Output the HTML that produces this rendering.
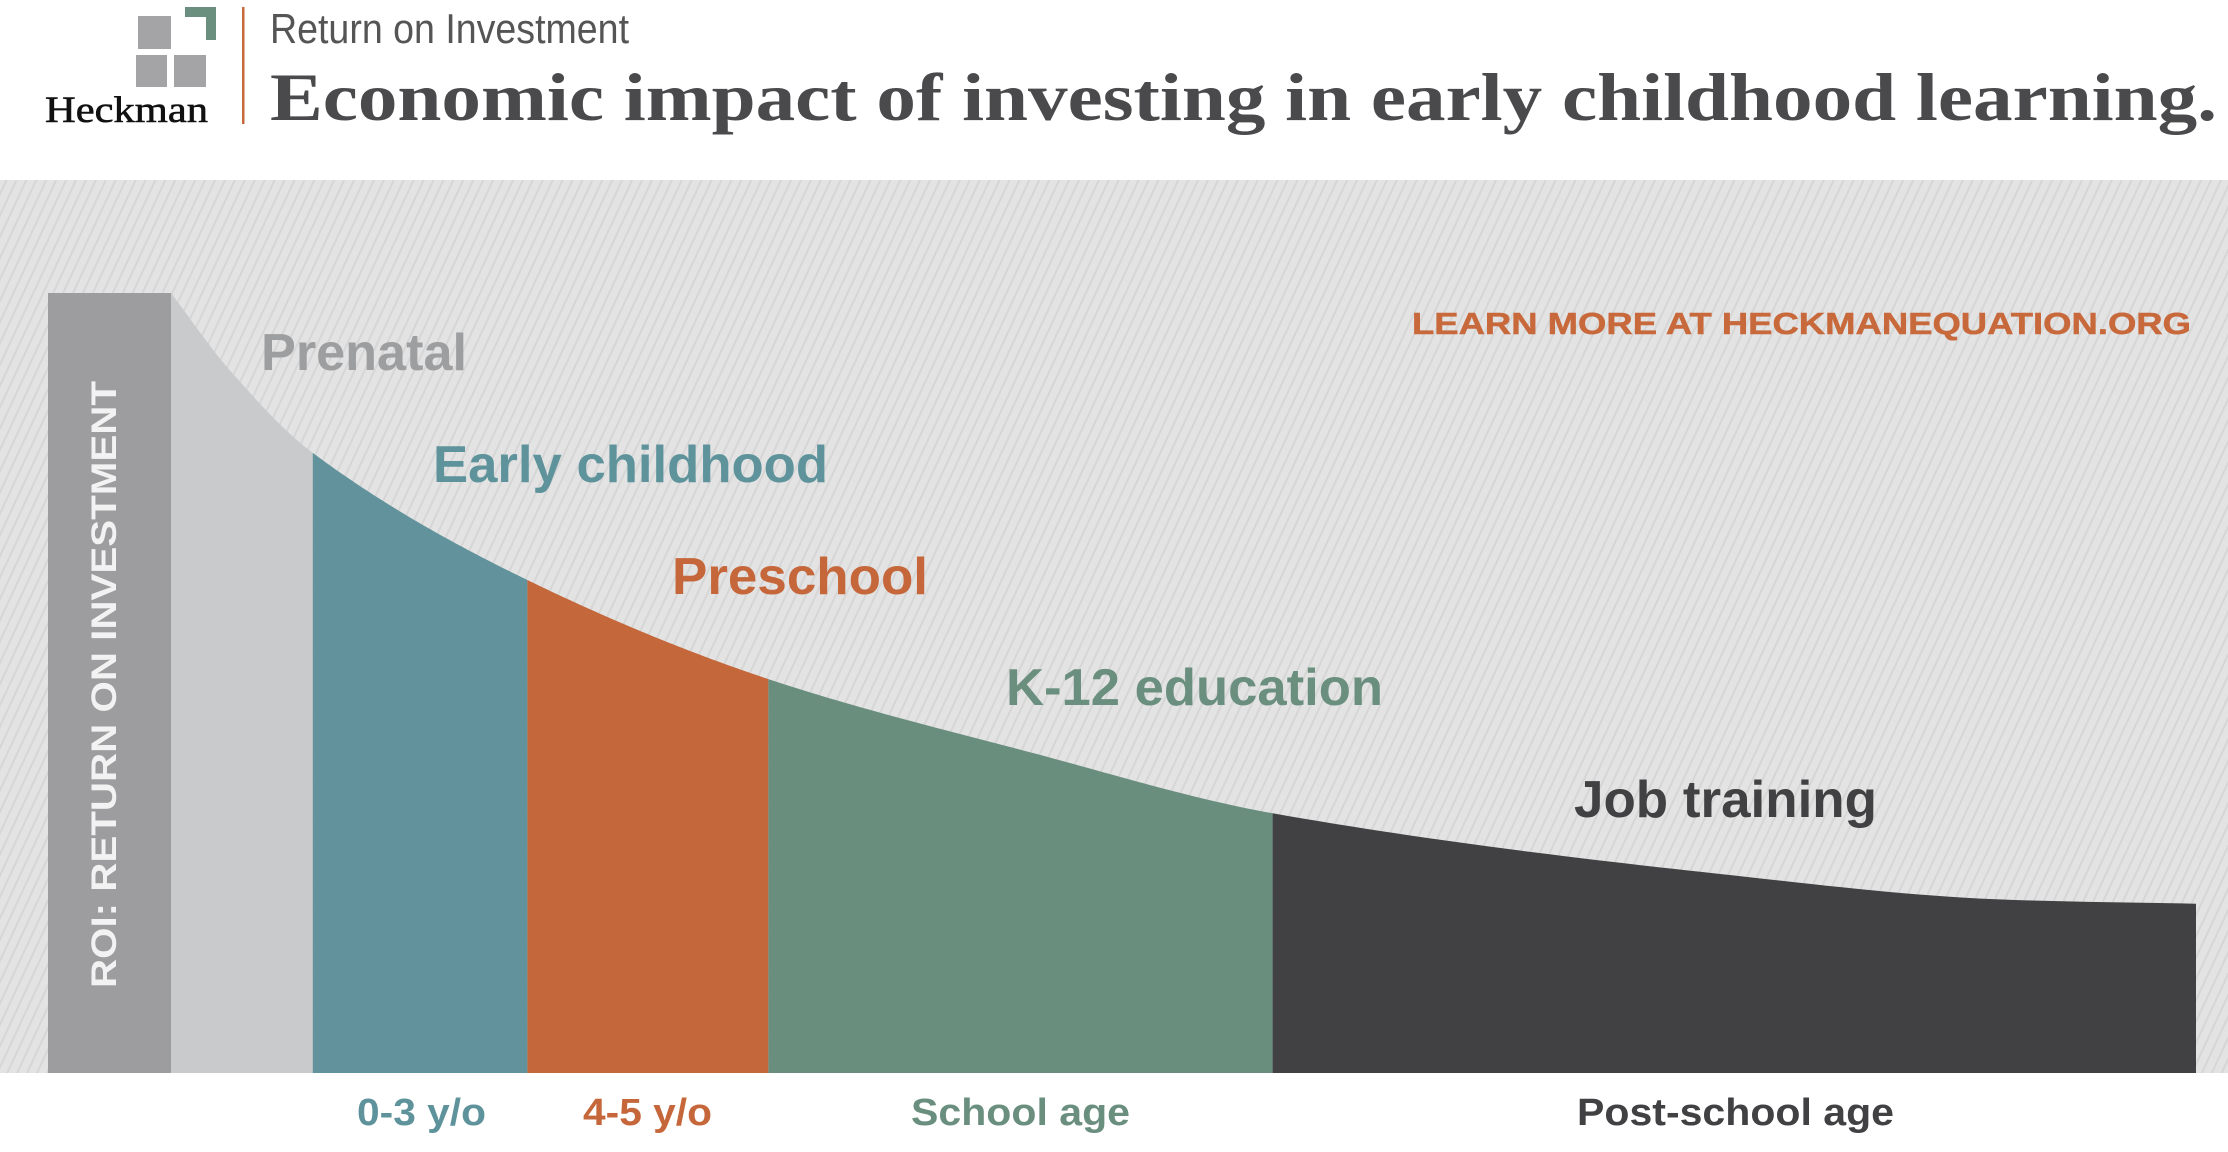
<!DOCTYPE html>
<html><head><meta charset="utf-8"><style>
html,body{margin:0;padding:0;background:#fff;}
svg{display:block;}
</style></head><body>
<svg id="chart" width="2228" height="1152" viewBox="0 0 2228 1152" xmlns="http://www.w3.org/2000/svg" font-family="'Liberation Sans', Arial, sans-serif">
<defs>
<pattern id="stripes" patternUnits="userSpaceOnUse" width="9" height="9" patternTransform="rotate(25)">
<rect width="9" height="9" fill="#e3e3e3"/>
<rect width="2" height="9" fill="#d6d6d6"/>
</pattern>
</defs>
<g>
<rect x="138" y="16" width="33" height="33" fill="#a4a4a6"/>
<path d="M185 7 H216 V40 H206 V17 H185 Z" fill="#6b8f7f"/>
<rect x="136" y="55" width="31" height="32" fill="#a4a4a6"/>
<rect x="174" y="55" width="32" height="32" fill="#a4a4a6"/>
<text x="45" y="122" font-family="'Liberation Serif', serif" font-size="37" textLength="163" lengthAdjust="spacingAndGlyphs" fill="#111" stroke="#111" stroke-width="0.6">Heckman</text>
<rect x="242" y="7" width="2.5" height="117" fill="#c8693c"/>
<text x="270" y="43" font-family="'Liberation Sans Narrow','Liberation Sans',sans-serif" font-size="42" textLength="359" lengthAdjust="spacingAndGlyphs" fill="#555">Return on Investment</text>
<text x="270" y="120" font-family="'Liberation Serif', serif" font-weight="bold" font-size="68" textLength="1947" lengthAdjust="spacingAndGlyphs" fill="#4a4a4c">Economic impact of investing in early childhood learning.</text>
</g>
<rect x="0" y="180" width="2228" height="893" fill="url(#stripes)"/>
<g id="areas"></g>
<rect x="48" y="293" width="123" height="780" fill="#9d9d9f"/>
<text transform="translate(116,988) rotate(-90)" font-size="35" font-weight="bold" textLength="607" lengthAdjust="spacingAndGlyphs" fill="#f2f2f2">ROI: RETURN ON INVESTMENT</text>
<text x="1412" y="334" font-size="31" font-weight="bold" textLength="779" lengthAdjust="spacingAndGlyphs" fill="#c8693c" stroke="#c8693c" stroke-width="0.5">LEARN MORE AT HECKMANEQUATION.ORG</text>
<g id="labels"></g>
</svg>
<script>
// curve data: stage position (0-100 along age axis) and ROI (0-100)
const curveX = [0, 2.9, 7.0, 17.6, 29.5, 42.6, 54.4, 76.2, 90.8, 100];
const curveY = [100, 90.1, 79.5, 63.2, 50.5, 41.0, 33.3, 25.6, 22.2, 21.7];
const stageNames = ["Prenatal", "Early childhood", "Preschool", "K-12 education", "Job training"];
const stageStart = [0, 7.0, 17.6, 29.5, 54.4];
const stageEnd = [7.0, 17.6, 29.5, 54.4, 100];
const stageColors = ["#c9cacc", "#62929b", "#c4673b", "#6a8e7e", "#414143"];
const labelColors = ["#9d9ea0", "#5f939c", "#c5673a", "#6a8f7f", "#414143"];
const labelX = [261, 433, 672, 1006, 1574];
const labelY = [370, 482, 594, 705, 817];
const labelW = [206, 395, 256, 377, 303];
const ageLabels = ["0-3 y/o", "4-5 y/o", "School age", "Post-school age"];
const ageLabelX = [357, 583, 911, 1577];
const ageLabelW = [129, 129, 219, 317];
const ageLabelColors = ["#5f939c", "#c5673a", "#6a8f7f", "#414143"];

const X0 = 171, X1 = 2196, Y0 = 1073, Y1 = 293;
const sx = v => X0 + (X1 - X0) * v / 100;
const sy = v => Y0 - (Y0 - Y1) * v / 100;
const NS = "http://www.w3.org/2000/svg";

function curveAt(t) {
  const n = curveX.length;
  const d = [], m = [];
  for (let i = 0; i < n - 1; i++) d.push((curveY[i+1]-curveY[i])/(curveX[i+1]-curveX[i]));
  m[0] = d[0]; m[n-1] = d[n-2];
  for (let i = 1; i < n - 1; i++) m[i] = (d[i-1]*d[i] <= 0) ? 0 : 2/(1/d[i-1]+1/d[i]);
  let i = 0;
  while (i < n - 2 && t > curveX[i+1]) i++;
  const h = curveX[i+1]-curveX[i], s = (t-curveX[i])/h;
  const h00 = 2*s*s*s-3*s*s+1, h10 = s*s*s-2*s*s+s, h01 = -2*s*s*s+3*s*s, h11 = s*s*s-s*s;
  return h00*curveY[i]+h10*h*m[i]+h01*curveY[i+1]+h11*h*m[i+1];
}

const areas = document.getElementById('areas');
for (let k = 0; k < stageNames.length; k++) {
  let d = `M${sx(stageStart[k])},${Y0}`;
  const steps = 60;
  for (let j = 0; j <= steps; j++) {
    const t = stageStart[k] + (stageEnd[k]-stageStart[k]) * j / steps;
    d += ` L${sx(t).toFixed(2)},${sy(curveAt(t)).toFixed(2)}`;
  }
  d += ` L${sx(stageEnd[k])},${Y0} Z`;
  const p = document.createElementNS(NS, 'path');
  p.setAttribute('d', d);
  p.setAttribute('fill', stageColors[k]);
  
  
  areas.appendChild(p);
}
const labels = document.getElementById('labels');
for (let k = 0; k < stageNames.length; k++) {
  const t = document.createElementNS(NS, 'text');
  t.setAttribute('x', labelX[k]);
  t.setAttribute('y', labelY[k]);
  t.setAttribute('font-size', '52');
  t.setAttribute('font-weight', 'bold');
  t.setAttribute('textLength', labelW[k]);
  t.setAttribute('lengthAdjust', 'spacingAndGlyphs');
  t.setAttribute('fill', labelColors[k]);
  t.textContent = stageNames[k];
  
  
  labels.appendChild(t);
}
for (let k = 0; k < ageLabels.length; k++) {
  const t = document.createElementNS(NS, 'text');
  t.setAttribute('x', ageLabelX[k]);
  t.setAttribute('y', 1125);
  t.setAttribute('font-size', '38');
  t.setAttribute('font-weight', 'bold');
  t.setAttribute('textLength', ageLabelW[k]);
  t.setAttribute('lengthAdjust', 'spacingAndGlyphs');
  t.setAttribute('fill', ageLabelColors[k]);
  t.textContent = ageLabels[k];
  
  
  labels.appendChild(t);
}
</script>
</body></html>
